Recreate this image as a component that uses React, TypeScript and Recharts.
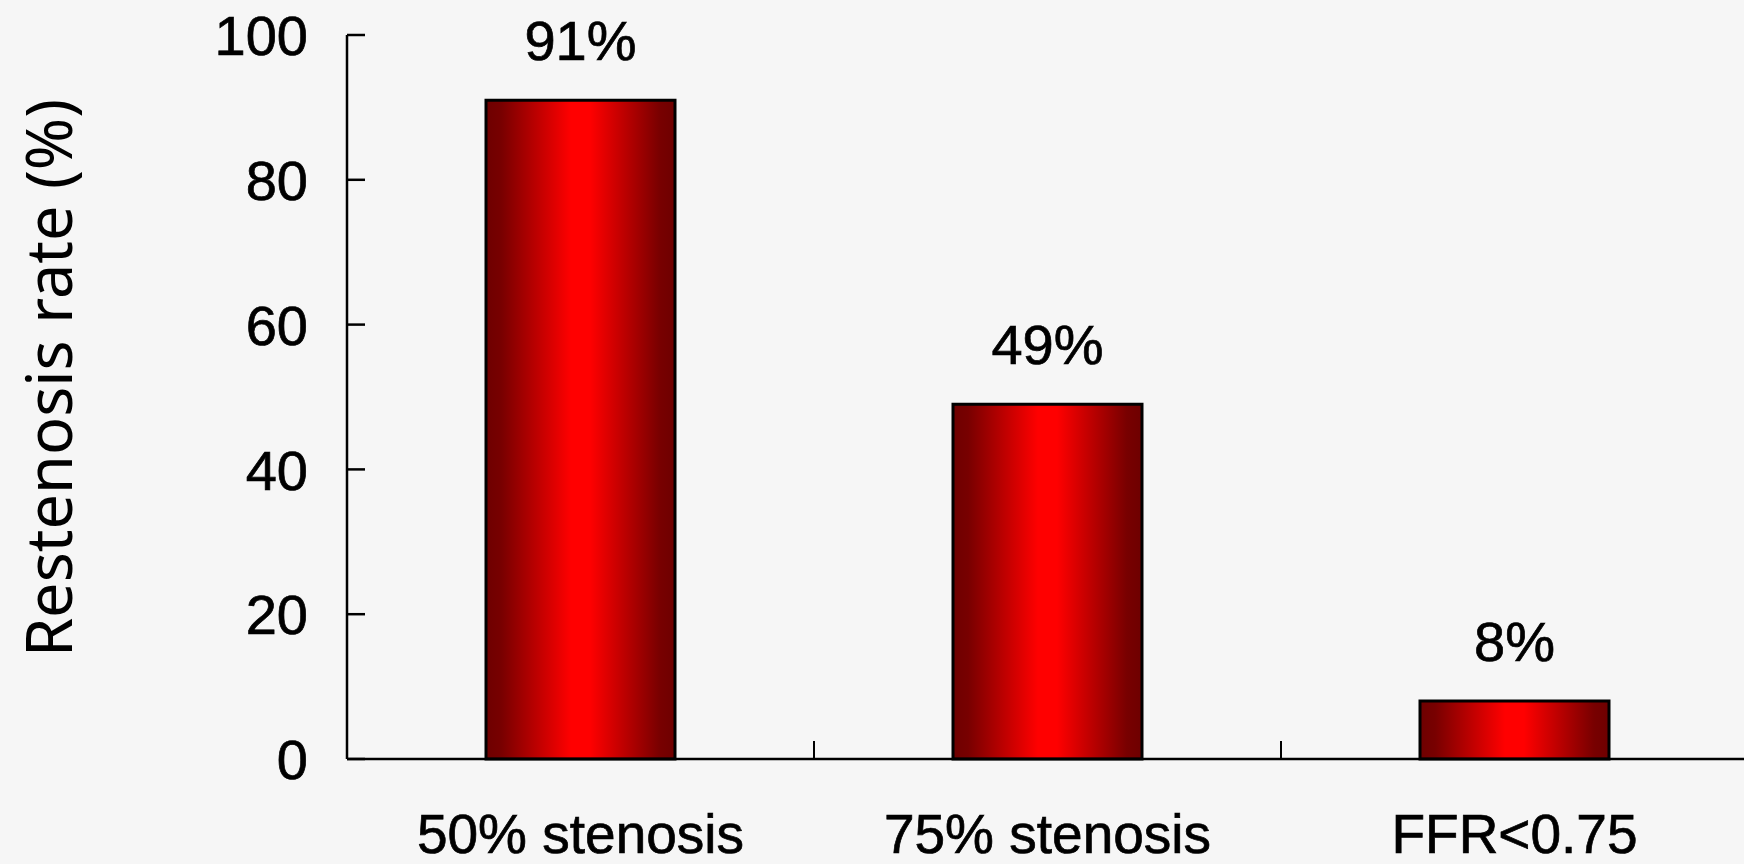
import React from "react";
import { BarChart, Bar, XAxis, YAxis, LabelList } from "recharts";

// Restenosis rate by criterion
const categories = ["50% stenosis", "75% stenosis", "FFR<0.75"];
const rates = [91, 49, 8];
const yTicks = [0, 20, 40, 60, 80, 100];

const data = categories.map((name, i) => ({ name, rate: rates[i] }));

const W = 1750;
const H = 864;
const MARGIN = { top: 35, right: 2, bottom: 75, left: 287 };
const Y_AXIS_W = 60;
const X_AXIS_H = 30;
const BAND = (W - MARGIN.left - Y_AXIS_W - MARGIN.right) / categories.length;

const TEXT_FONT = "'Liberation Sans', Arial, sans-serif";
const FS = 55;
const TEXT_STROKE = 0.7;

const YTick = (props: any) => {
  const { x, y, payload } = props;
  return (
    <g>
      <line x1={x} y1={y} x2={x + 18} y2={y} stroke="#000" strokeWidth={2.5} />
      <text
        x={x - 39}
        y={y}
        dy="0.36em"
        textAnchor="end"
        fontFamily={TEXT_FONT}
        fontSize={FS + 1}
        fill="#000"
        stroke="#000"
        strokeWidth={TEXT_STROKE}
      >
        {payload.value}
      </text>
    </g>
  );
};

const XTick = (props: any) => {
  const { x, y, payload, index } = props;
  const half = payload && typeof payload.offset === "number" && payload.offset > 0 ? payload.offset : BAND / 2;
  const showEdge = index < categories.length - 1;
  return (
    <g>
      {showEdge && (
        <line x1={x + half} y1={y} x2={x + half} y2={y - 18} stroke="#000" strokeWidth={2} />
      )}
      <text
        x={x}
        y={y + 94}
        textAnchor="middle"
        fontFamily={TEXT_FONT}
        fontSize={FS}
        fill="#000"
        stroke="#000"
        strokeWidth={TEXT_STROKE}
      >
        {payload.value}
      </text>
    </g>
  );
};

export default function App() {
  return (
    <div
      style={{
        position: "absolute",
        left: 0,
        top: 0,
        width: 1744,
        height: 864,
        overflow: "hidden",
        background: "#f6f6f6",
      }}
    >
      <BarChart width={W} height={H} data={data} margin={MARGIN}>
        <defs>
          <linearGradient id="barShade" x1="0" y1="0" x2="1" y2="0">
            <stop offset="0" stopColor="#6e0000" />
            <stop offset="0.08" stopColor="#780000" />
            <stop offset="0.45" stopColor="#ff0000" />
            <stop offset="0.55" stopColor="#ff0000" />
            <stop offset="0.92" stopColor="#780000" />
            <stop offset="1" stopColor="#6e0000" />
          </linearGradient>
        </defs>
        <XAxis
          dataKey="name"
          height={X_AXIS_H}
          axisLine={{ stroke: "#000", strokeWidth: 2.5 }}
          tickLine={false}
          tickSize={0}
          tickMargin={0}
          interval={0}
          tick={<XTick />}
        />
        <YAxis
          width={Y_AXIS_W}
          domain={[0, 100]}
          ticks={yTicks}
          axisLine={{ stroke: "#000", strokeWidth: 2.5 }}
          tickLine={false}
          tickSize={0}
          tickMargin={0}
          interval={0}
          tick={<YTick />}
        />
        <Bar
          dataKey="rate"
          barSize={189}
          fill="url(#barShade)"
          stroke="#000"
          strokeWidth={3}
          isAnimationActive={false}
        >
          <LabelList
            dataKey="rate"
            position="top"
            offset={40}
            formatter={(v: any) => `${v}%`}
            fill="#000"
            stroke="#000"
            strokeWidth={TEXT_STROKE}
            fontFamily={TEXT_FONT}
            fontSize={FS + 1}
          />
        </Bar>
      </BarChart>
      <div
        style={{
          position: "absolute",
          left: 47,
          top: 378,
          transform: "translate(-50%, -50%) rotate(-90deg)",
          whiteSpace: "nowrap",
          fontFamily: "'Noto Sans', 'Open Sans', sans-serif",
          fontSize: 63,
          lineHeight: 1,
          color: "#000",
        }}
      >
        Restenosis rate (%)
      </div>
    </div>
  );
}
